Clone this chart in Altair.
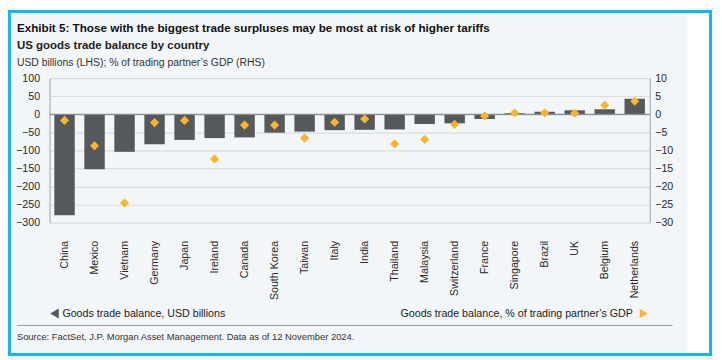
import altair as alt
import pandas as pd

# ---- data ----
countries = ["China", "Mexico", "Vietnam", "Germany", "Japan", "Ireland", "Canada",
             "South Korea", "Taiwan", "Italy", "India", "Thailand", "Malaysia",
             "Switzerland", "France", "Singapore", "Brazil", "UK", "Belgium", "Netherlands"]
balance_usd = [-280, -152, -104, -83, -71, -66, -64, -51, -48, -44, -43, -42, -27,
               -25, -13, 3, 7, 11, 14, 43]
balance_pct = [-1.7, -8.7, -24.6, -2.3, -1.7, -12.4, -3.0, -3.0, -6.6, -2.2, -1.3,
               -8.2, -7.0, -2.8, -0.5, 0.4, 0.4, 0.3, 2.5, 3.6]
usd_ticks = [100, 50, 0, -50, -100, -150, -200, -250, -300]
pct_ticks = [10, 5, 0, -5, -10, -15, -20, -25, -30]

title_text = "Exhibit 5: Those with the biggest trade surpluses may be most at risk of higher tariffs"
subtitle_text = "US goods trade balance by country"
units_text = "USD billions (LHS); % of trading partner\u2019s GDP (RHS)"
legend_left_text = "Goods trade balance, USD billions"
legend_right_text = "Goods trade balance, % of trading partner\u2019s GDP"
source_text = "Source: FactSet, J.P. Morgan Asset Management. Data as of 12 November 2024."

df = pd.DataFrame({"country": countries, "usd": balance_usd, "pct": balance_pct})

FONT = "Liberation Sans"
BAR = "#55585c"
GOLD = "#f9b62a"
CYAN = "#12b9e8"
W, H = 607, 146

x_enc = alt.X("country:N", sort=None,
              scale=alt.Scale(paddingInner=0.32, paddingOuter=0.16),
              axis=alt.Axis(title=None, labelAngle=-90, ticks=False, domain=False,
                            labelPadding=18, labelFontSize=10.8, labelColor="#2a2a2a",
                            labelFont=FONT))

usd_scale = alt.Scale(domain=[-300, 100], nice=False, zero=False)
pct_scale = alt.Scale(domain=[-30, 10], nice=False, zero=False)

bars = alt.Chart(df).mark_bar(color=BAR).encode(
    x=x_enc,
    y=alt.Y("usd:Q", scale=usd_scale,
            axis=alt.Axis(title=None, orient="left", values=usd_ticks, grid=True,
                          gridColor="#dadde0", gridWidth=1.2, domainColor="#a0a0a0",
                          ticks=False, labelPadding=10, labelFontSize=10.8,
                          labelColor="#2a2a2a", labelFont=FONT)),
)

zero_rule = alt.Chart(pd.DataFrame({"v": [0]})).mark_rule(
    color="#8c8f92", strokeWidth=1.2).encode(
    y=alt.Y("v:Q", scale=usd_scale, axis=None))

diamonds = alt.Chart(df).mark_point(
    shape="diamond", filled=True, size=85, color=GOLD, opacity=1).encode(
    x=x_enc,
    y=alt.Y("pct:Q", scale=pct_scale,
            axis=alt.Axis(title=None, orient="right", values=pct_ticks, grid=False,
                          domainColor="#a0a0a0", ticks=False, labelPadding=5,
                          labelFontSize=10.8, labelColor="#2a2a2a", labelFont=FONT)),
)


def txt(s, x, y, size, weight="normal", color="#222222", align="left"):
    return alt.Chart(pd.DataFrame({"t": [s]})).mark_text(
        align=align, baseline="alphabetic", fontSize=size, fontWeight=weight,
        color=color, font=FONT).encode(x=alt.value(x), y=alt.value(y), text="t:N")


one = pd.DataFrame({"k": [0]})

white_strip = alt.Chart(one).mark_rect(color="#ffffff").encode(
    x=alt.value(645), x2=alt.value(667), y=alt.value(-69), y2=alt.value(283))
frame = alt.Chart(one).mark_rect(fillOpacity=0, stroke=CYAN, strokeWidth=3).encode(
    x=alt.value(-40.5), x2=alt.value(668.5), y=alt.value(-67.5), y2=alt.value(279.5))
separator = alt.Chart(one).mark_rule(color="#9a9a9a", strokeWidth=1).encode(
    x=alt.value(-33), x2=alt.value(630), y=alt.value(250))
tri_left = alt.Chart(one).mark_point(shape="triangle-left", filled=True, size=100,
                                     color=BAR, opacity=1).encode(
    x=alt.value(5), y=alt.value(238))
tri_right = alt.Chart(one).mark_point(shape="triangle-right", filled=True, size=90,
                                      color=GOLD, opacity=1).encode(
    x=alt.value(601), y=alt.value(238))

chart = alt.layer(
    bars, zero_rule, diamonds,
    white_strip, frame, separator, tri_left, tri_right,
    txt(title_text, -33, -47, 11.8, "bold", "#111111"),
    txt(subtitle_text, -33, -29.5, 11.6, "bold", "#222222"),
    txt(units_text, -33, -12, 10.5, "normal", "#333333"),
    txt(legend_left_text, 13, 242, 10.8, "normal", "#222222"),
    txt(legend_right_text, 590, 242, 10.8, "normal", "#222222", align="right"),
    txt(source_text, -33, 264.5, 9.5, "normal", "#333333"),
).resolve_scale(y="independent").properties(
    width=W, height=H,
    autosize=alt.AutoSizeParams(type="none"),
    padding={"left": 42, "top": 69, "right": 65, "bottom": 137},
    background="#f3f6f8",
).configure_view(strokeWidth=0)

chart.save("out.html", embed_options={"renderer": "svg", "actions": False})
